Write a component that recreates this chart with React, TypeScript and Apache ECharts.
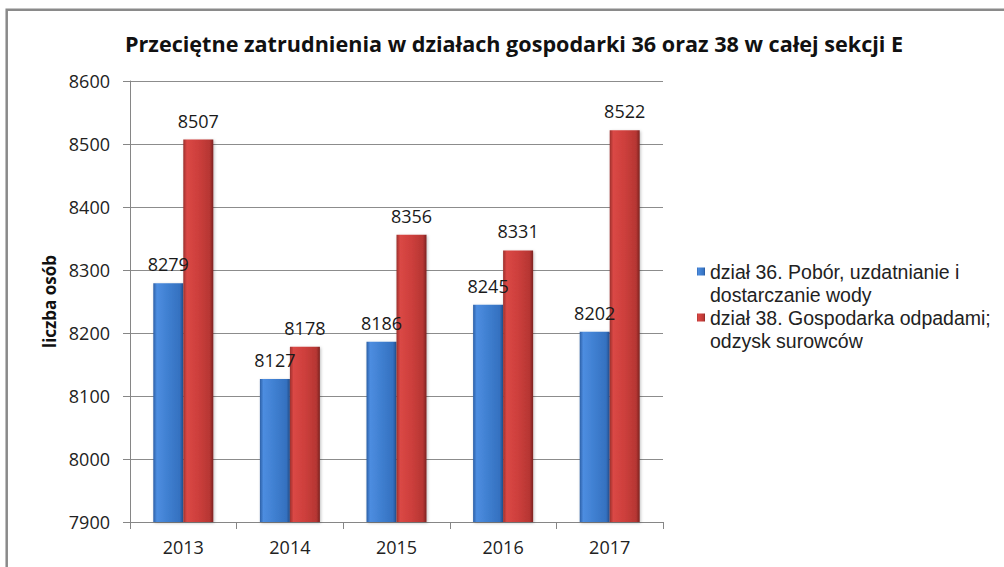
import React, { useEffect, useRef } from "react";
import * as echarts from "echarts";

const categories = ["2013", "2014", "2015", "2016", "2017"];
const seriesNames = [
  "dział 36. Pobór, uzdatnianie i\ndostarczanie wody",
  "dział 38. Gospodarka odpadami;\nodzysk surowców",
];
const water = [8279, 8127, 8186, 8245, 8202];
const waste = [8507, 8178, 8356, 8331, 8522];
const yTicks = { min: 7900, max: 8600, interval: 100 };
const titleText = "Przeciętne zatrudnienia w działach gospodarki 36 oraz 38 w całej sekcji E";
const yName = "liczba osób";

const FONT = "'Open Sans', 'Noto Sans', sans-serif";
const LEGEND_FONT = "'Liberation Sans', Arial, sans-serif";

const blueGrad = new echarts.graphic.LinearGradient(0, 0, 1, 0, [
  { offset: 0, color: "#2c5fa6" },
  { offset: 0.12, color: "#4d8de0" },
  { offset: 0.5, color: "#3f7fd0" },
  { offset: 0.88, color: "#3571c0" },
  { offset: 1, color: "#234e8c" },
]);
const redGrad = new echarts.graphic.LinearGradient(0, 0, 1, 0, [
  { offset: 0, color: "#9c302d" },
  { offset: 0.12, color: "#da4845" },
  { offset: 0.5, color: "#cd3f3c" },
  { offset: 0.88, color: "#b63633" },
  { offset: 1, color: "#7c2321" },
]);

// legend marker: square at the top of a tall (invisible) box, so it lines up with the first text line
const legendIcon = "path://M0,0L8,0L8,8L0,8Z M0,31L8,31";

export default function App() {
  const ref = useRef<HTMLDivElement>(null);
  useEffect(() => {
    if (!ref.current) return;
    const chart = echarts.init(ref.current, null, { renderer: "svg" });
    const labelStyle = {
      show: true,
      position: "top" as const,
      distance: 10,
      fontFamily: FONT,
      fontSize: 18,
      color: "#1a1a1a",
    };
    chart.setOption({
      animation: false,
      backgroundColor: "#ffffff",
      title: {
        text: titleText,
        left: 125,
        top: 32,
        padding: 0,
        textStyle: { fontFamily: FONT, fontSize: 21.6, fontWeight: "bold", color: "#111" },
      },
      graphic: [
        {
          type: "rect",
          shape: { x: 6.7, y: 9.7, width: 1200, height: 800 },
          style: { fill: "none", stroke: "#8a8a8a", lineWidth: 2.5 },
          silent: true,
        },
      ],
      legend: {
        orient: "vertical",
        left: 697,
        top: 260,
        padding: 0,
        itemWidth: 8,
        itemHeight: 31,
        itemGap: 0,
        icon: legendIcon,
        data: seriesNames,
        textStyle: {
          fontFamily: LEGEND_FONT,
          fontSize: 19.5,
          color: "#222",
          lineHeight: 23,
        },
      },
      grid: { left: 130, right: 341, top: 81, bottom: 45, containLabel: false },
      xAxis: {
        type: "category",
        data: categories,
        axisLine: { lineStyle: { color: "#868686", width: 1 } },
        axisTick: { show: true, length: 7, lineStyle: { color: "#868686" } },
        axisLabel: { fontFamily: FONT, fontSize: 18, color: "#222", margin: 16 },
      },
      yAxis: {
        type: "value",
        min: yTicks.min,
        max: yTicks.max,
        interval: yTicks.interval,
        name: yName,
        nameLocation: "middle",
        nameGap: 72,
        nameRotate: 90,
        nameTextStyle: { fontFamily: FONT, fontSize: 17, fontWeight: "bold", color: "#111" },
        axisLine: { show: true, lineStyle: { color: "#868686", width: 1 } },
        axisTick: { show: true, length: 7, lineStyle: { color: "#868686" } },
        axisLabel: {
          fontFamily: FONT,
          fontSize: 18,
          color: "#222",
          margin: 20,
          formatter: (v: number) => String(v),
        },
        splitLine: { lineStyle: { color: "#8c8c8c", width: 1 } },
      },
      series: [
        {
          name: seriesNames[0],
          type: "bar",
          data: water,
          barWidth: 30,
          barGap: "0%",
          itemStyle: {
            color: blueGrad,
            shadowColor: "rgba(0,0,0,0.25)",
            shadowBlur: 3,
            shadowOffsetX: 1,
            shadowOffsetY: 1,
          },
          label: labelStyle,
        },
        {
          name: seriesNames[1],
          type: "bar",
          data: waste,
          barWidth: 30,
          barGap: "0%",
          itemStyle: {
            color: redGrad,
            shadowColor: "rgba(0,0,0,0.25)",
            shadowBlur: 3,
            shadowOffsetX: 1,
            shadowOffsetY: 1,
          },
          label: labelStyle,
        },
      ],
    });
    return () => chart.dispose();
  }, []);
  return (
    <div
      ref={ref}
      style={{ position: "fixed", left: 0, top: 0, width: 1004, height: 567, background: "#fff" }}
    />
  );
}
